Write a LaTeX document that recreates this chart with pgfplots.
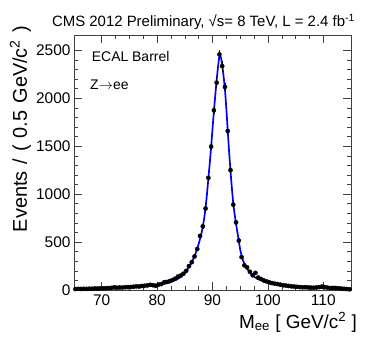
\documentclass[border=0pt]{standalone}
\usepackage{fontspec}
\setmainfont{Liberation Sans}
\usepackage{pgfplots}
\usepackage{pgfplotstable}
\pgfplotsset{compat=1.18}
\pgfplotstableread{
x y e
65.25 10 3.2
65.75 12 3.5
66.25 11 3.3
66.75 13 3.6
67.25 12 3.5
67.75 14 3.7
68.25 13 3.6
68.75 16 4.0
69.25 15 3.9
69.75 18 4.2
70.25 17 4.1
70.75 19 4.4
71.25 20 4.5
71.75 22 4.7
72.25 28 5.3
72.75 24 4.9
73.25 26 5.1
73.75 25 5.0
74.25 29 5.4
74.75 30 5.5
75.25 31 5.6
75.75 34 5.8
76.25 38 6.2
76.75 36 6.0
77.25 42 6.5
77.75 44 6.6
78.25 48 6.9
78.75 54 7.3
79.25 50 7.1
79.75 44 6.6
80.25 56 7.5
80.75 62 7.9
81.25 80 8.9
81.75 84 9.2
82.25 92 9.6
82.75 104 10.2
83.25 118 10.9
83.75 140 11.8
84.25 150 12.2
84.75 170 13.0
85.25 200 14.1
85.75 250 15.8
86.25 290 17.0
86.75 350 18.7
87.25 428 20.7
87.75 564 23.7
88.25 664 25.8
88.75 850 29.2
89.25 1170 34.2
89.75 1496 38.7
90.25 1875 43.3
90.75 2163 46.5
91.25 2458 49.6
91.75 2336 48.3
92.25 2118 46.0
92.75 1659 40.7
93.25 1250 35.4
93.75 890 29.8
94.25 705 26.6
94.75 515 22.7
95.25 343 18.5
95.75 257 16.0
96.25 236 15.4
96.75 190 13.8
97.25 154 12.4
97.75 179 13.4
98.25 130 11.4
98.75 115 10.7
99.25 100 10.0
99.75 90 9.5
100.25 80 8.9
100.75 72 8.5
101.25 66 8.1
101.75 62 7.9
102.25 55 7.4
102.75 50 7.1
103.25 46 6.8
103.75 42 6.5
104.25 38 6.2
104.75 36 6.0
105.25 33 5.7
105.75 30 5.5
106.25 28 5.3
106.75 29 5.4
107.25 27 5.2
107.75 25 5.0
108.25 24 4.9
108.75 26 5.1
109.25 30 5.5
109.75 36 6.0
110.25 30 5.5
110.75 25 5.0
111.25 20 4.5
111.75 22 4.7
112.25 21 4.6
112.75 18 4.2
113.25 15 3.9
113.75 12 3.5
114.25 10 3.2
114.75 7 2.6
}\datatable
\pgfplotstableread{
x y
65 10
67 12
70 17
72 21
74 26
76 33
78 42
80 54
81 62
82 75
83 95
84 125
84.5 148
85 180
85.5 215
86 260
86.5 320
87 390
87.5 480
88 590
88.25 660
88.5 750
88.75 860
89 1000
89.25 1160
89.5 1320
89.75 1490
90 1680
90.25 1860
90.5 2030
90.75 2190
91 2330
91.25 2440
91.5 2430
91.75 2350
92 2230
92.25 2090
92.5 1890
92.75 1660
93 1440
93.25 1240
93.5 1060
93.75 900
94 790
94.25 690
94.5 600
94.75 510
95 420
95.25 360
95.5 310
96 245
96.5 200
97 165
97.5 140
98 120
99 95
100 78
101 65
102 55
103 47
104 40
105 35
106 31
107 27
108 24
109 21
110 19
111 17
112 15
113 13
114 11
115 10
}\fittable
\begin{document}
\begin{tikzpicture}
\useasboundingbox (-74bp,-47bp) rectangle (293bp,290bp);
\begin{axis}[
  at={(0,0)}, anchor=south west,
  scale only axis, width=277bp, height=255bp,
  xmin=65, xmax=115, ymin=0, ymax=2660,
  xtick={70,80,...,110}, minor x tick num=3,
  ytick={0,500,...,2500}, minor y tick num=4,
  tick align=inside, xtick pos=both, ytick pos=both,
  xticklabel pos=bottom, yticklabel pos=left,
  major tick length=8bp, minor tick length=4bp,
  axis line style={black!75, line width=0.6bp},
  every tick/.style={black!75, line width=0.5bp},
  scaled y ticks=false,
  /pgf/number format/1000 sep={},
  /pgf/number format/assume math mode=true,
  tick label style={font=\fontsize{15.5}{16}\selectfont},
  xticklabel style={yshift=-1bp},
  clip=true,
]
\addplot[blue, line width=1.7bp, smooth, tension=0.3] table[x=x,y=y]{\fittable};
\addplot[only marks, mark=*, mark size=2.1bp, black,
  error bars/.cd, y dir=both, y explicit,
  error mark=none, error bar style={line width=0.6bp, black}]
  table[x=x,y=y,y error=e]{\datatable};
\end{axis}
\node[anchor=base, font=\fontsize{15}{16}\selectfont] at (129.5bp,263bp)
  {CMS 2012 Preliminary, √s= 8 TeV, L = 2.4 fb\textsuperscript{-1}};
\node[anchor=base west, font=\fontsize{14}{15}\selectfont, inner sep=0pt] at (17.7bp,228.3bp) {ECAL Barrel};
\node[anchor=base west, font=\fontsize{14}{15}\selectfont, inner sep=0pt] at (16bp,200bp) {Z$\rightarrow$ee};
\node[rotate=90, anchor=base east, font=\fontsize{20}{21}\selectfont, inner sep=0pt] at (-47bp,264bp)
  {Events\hspace{0.35em}/\hspace{0.35em}(\hspace{0.35em}0.5\hspace{0.35em}GeV/c\textsuperscript{2}\hspace{0.35em})};
\node[anchor=base east, font=\fontsize{19}{20}\selectfont, inner sep=0pt] at (283bp,-38bp)
  {M\textsubscript{ee} [ GeV/c\textsuperscript{2} ]};
\end{tikzpicture}
\end{document}
